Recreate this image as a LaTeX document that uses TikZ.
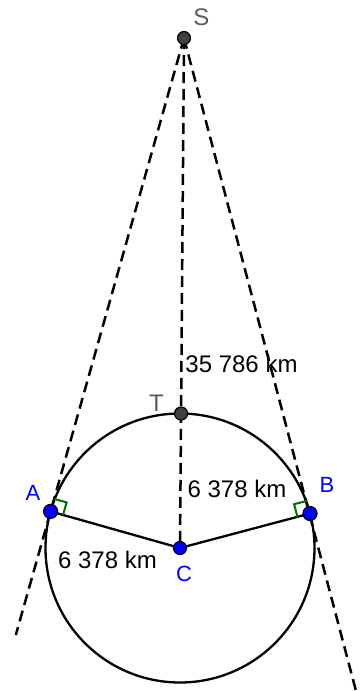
\documentclass[tikz,border=0pt]{standalone}
\usepackage{fontspec}
\setmainfont{Liberation Sans}
\usepackage{tikz}
\usepackage{xcolor}
\definecolor{ptgray}{RGB}{64,64,64}
\definecolor{lblgray}{RGB}{90,90,90}
\definecolor{rgreen}{RGB}{0,110,0}

\begin{document}
\begin{tikzpicture}[x=0.5pt,y=-0.5pt,
  tangline/.style={black,line width=1.25pt,dash pattern=on 5.5pt off 3pt},
  radline/.style={black,line width=1.15pt},
  rightang/.style={rgreen,line width=1pt},
  bluedot/.style={circle,fill=blue,draw=black,line width=0.6pt,minimum size=7pt,inner sep=0pt},
  graydot/.style={circle,fill=ptgray,draw=black,line width=0.6pt,minimum size=6.5pt,inner sep=0pt},
  ptlabel/.style={inner sep=0pt,font=\fontsize{11pt}{13pt}\selectfont},
  kmlabel/.style={inner sep=0pt,font=\fontsize{12pt}{14pt}\selectfont}]
\useasboundingbox (0,0) rectangle (362,691);
% points
\coordinate (S) at (184,38);
\coordinate (C) at (180,548);
\coordinate (T) at (181.05,413.5);
\coordinate (A) at (50.6,511.4);
\coordinate (B) at (310,513.5);
\coordinate (Aend) at (15.8,635);
\coordinate (Bend) at (356,691);
% earth
\draw[radline] (C) circle[radius=134.5];
% tangents and axis
\draw[tangline] (S) -- (Aend);
\draw[tangline] (S) -- (Bend);
\draw[tangline] (S) -- (C);
\draw[radline] (A) -- (C) -- (B);
% right angles
\draw[rightang] (54.1,498.9) -- (66.6,502.4) -- (63.1,514.9);
\draw[rightang] (306.7,500.9) -- (294.1,504.2) -- (297.4,516.8);
% dots
\node[graydot] (dotS) at (S) {};
\node[graydot] (dotT) at (T) {};
\node[bluedot] (dotA) at (A) {};
\node[bluedot] (dotB) at (B) {};
\node[bluedot,minimum size=6.5pt] (dotC) at (C) {};
% labels
\node[ptlabel,text=lblgray,font=\fontsize{12pt}{14pt}\selectfont] (lblS) at (201.5,17.5) {S};
\node[ptlabel,text=lblgray,font=\fontsize{12pt}{14pt}\selectfont] (lblT) at (156.5,403.5) {T};
\node[ptlabel,text=blue] (lblA) at (33,493) {A};
\node[ptlabel,text=blue] (lblB) at (327,485) {B};
\node[ptlabel,text=blue] (lblC) at (184,574) {C};
\node[kmlabel] (kmST) at (241.5,363.5) {35 786 km};
\node[kmlabel] (kmTC) at (237,489) {6 378 km};
\node[kmlabel] (kmAC) at (107.5,560) {6 378 km};
\end{tikzpicture}
\end{document}
